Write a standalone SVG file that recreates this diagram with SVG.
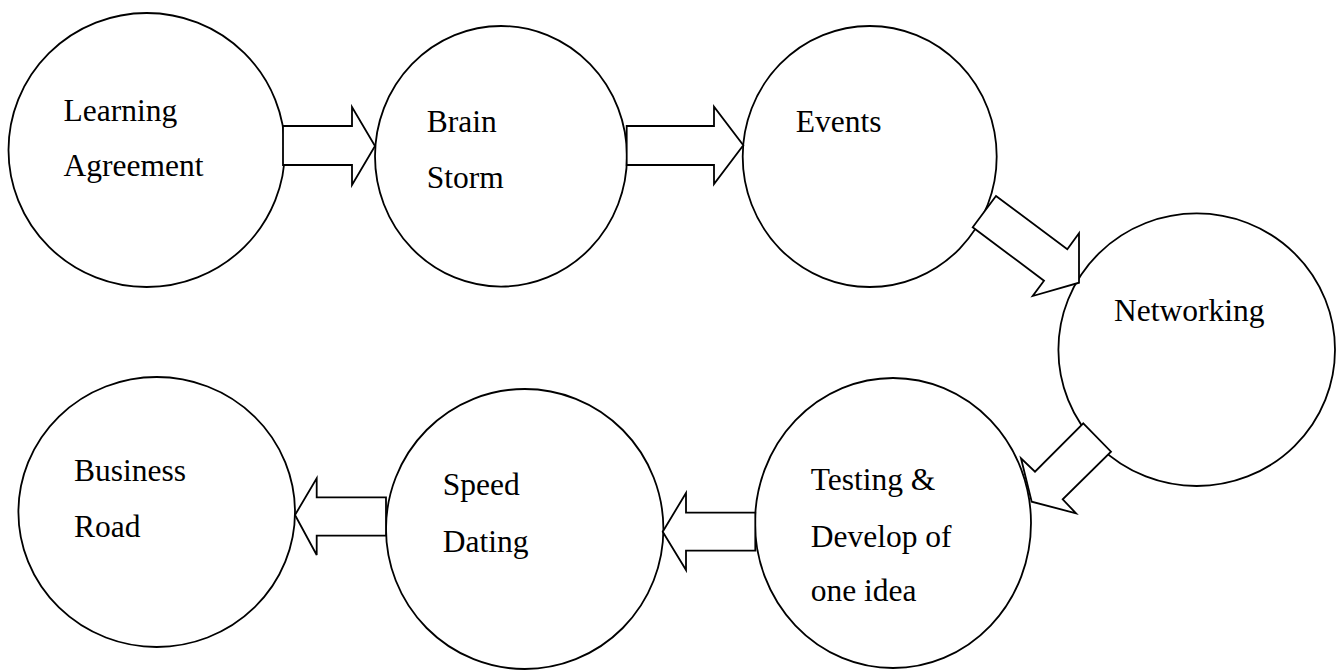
<svg xmlns="http://www.w3.org/2000/svg" width="1342" height="670" viewBox="0 0 1342 670">
  <style>
    .node { fill: #ffffff; stroke: #000000; stroke-width: 1.8; }
    .arrow { fill: #ffffff; stroke: #000000; stroke-width: 1.8; stroke-linejoin: miter; }
    text { font-family: 'Liberation Serif', 'Times New Roman', Times, 'DejaVu Serif', serif; font-size: 31.5px; fill: #000000; }
  </style>
  <rect width="1342" height="670" fill="#ffffff"/>

  <g id="learning-agreement">
    <ellipse class="node" cx="146.7" cy="150" rx="138.2" ry="137"/>
    <text font-family="Liberation Serif, serif" x="63.5" y="120.5">Learning</text>
    <text font-family="Liberation Serif, serif" x="63.5" y="175.7">Agreement</text>
  </g>

  <g id="brain-storm">
    <ellipse class="node" cx="501" cy="156.3" rx="126" ry="130.3"/>
    <text font-family="Liberation Serif, serif" x="426.7" y="131.7">Brain</text>
    <text font-family="Liberation Serif, serif" x="426.7" y="188">Storm</text>
  </g>

  <g id="events">
    <ellipse class="node" cx="869.7" cy="156.5" rx="127" ry="130.5"/>
    <text font-family="Liberation Serif, serif" x="795.7" y="131.7">Events</text>
  </g>

  <g id="networking">
    <ellipse class="node" cx="1196.7" cy="349.7" rx="138.3" ry="136.3"/>
    <text font-family="Liberation Serif, serif" x="1114" y="320.7">Networking</text>
  </g>

  <g id="testing-develop">
    <ellipse class="node" cx="893" cy="523" rx="138" ry="145"/>
    <text font-family="Liberation Serif, serif" x="810.7" y="490">Testing &amp;</text>
    <text font-family="Liberation Serif, serif" x="810.7" y="546.7">Develop of</text>
    <text font-family="Liberation Serif, serif" x="810.7" y="600.7">one idea</text>
  </g>

  <g id="speed-dating">
    <ellipse class="node" cx="524.7" cy="529" rx="138.7" ry="140"/>
    <text font-family="Liberation Serif, serif" x="442.7" y="495">Speed</text>
    <text font-family="Liberation Serif, serif" x="442.7" y="551.7">Dating</text>
  </g>

  <g id="business-road">
    <ellipse class="node" cx="156.7" cy="512" rx="138.3" ry="135"/>
    <text font-family="Liberation Serif, serif" x="74" y="480.7">Business</text>
    <text font-family="Liberation Serif, serif" x="74" y="536.7">Road</text>
  </g>

  <!-- block arrows between the stages -->
  <g id="connectors">
    <polygon class="arrow" points="283,126 352,126 352,107 375,146 352,185 352,165 283,165"/>
    <polygon class="arrow" points="626.7,126 714,126 714,106.7 743.3,145.3 714,184 714,165 626.7,165"/>
    <polygon class="arrow" points="996,196 1067.3,249.3 1079,233.3 1079,282.7 1032.7,296 1044,280.7 972.7,227.3"/>
    <polygon class="arrow" points="1083.3,423.3 1111,451.7 1062.7,499.3 1076,513.3 1031.7,501.7 1021,458.3 1035,471.7"/>
    <polygon class="arrow" points="755.3,512.7 686,512.7 686,493 662.7,531.7 686,570 686,550.7 755.3,550.7"/>
    <polygon class="arrow" points="386,497.3 316.7,497.3 316.7,478.3 295,515 316.7,555 316.7,535.7 386,535.7"/>
  </g>
</svg>
